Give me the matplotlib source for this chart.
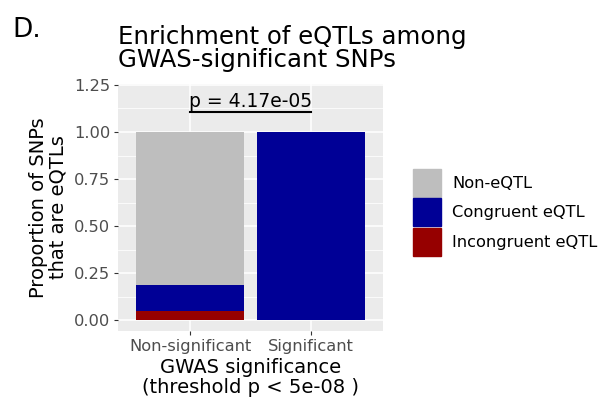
import matplotlib
matplotlib.use("Agg")
import matplotlib.pyplot as plt
from matplotlib.patches import Patch
from matplotlib.ticker import MultipleLocator

# proportions of SNPs per GWAS significance group
categories = ["Non-significant", "Significant"]
incongruent = [0.05, 0.0]
congruent = [0.136, 1.0]
non_eqtl = [0.814, 0.0]
p_label = "p = 4.17e-05"
p_height = 1.105

col_non = "#bebebe"
col_con = "#000096"
col_inc = "#960000"

fig = plt.figure(figsize=(6.02, 4.0), dpi=100)
ax = fig.add_axes([118/602, 1 - 331/400, (383 - 118)/602, (331 - 84)/400])

ax.set_facecolor("#ebebeb")
for s in ax.spines.values():
    s.set_visible(False)

x = [1, 2]
bottom2 = [a + b for a, b in zip(incongruent, congruent)]
ax.bar(x, incongruent, width=0.9, color=col_inc, zorder=3)
ax.bar(x, congruent, width=0.9, bottom=incongruent, color=col_con, zorder=3)
ax.bar(x, non_eqtl, width=0.9, bottom=bottom2, color=col_non, zorder=3)

ax.set_xlim(0.4, 2.6)
ax.set_ylim(-0.0575, 1.255)
ax.set_xticks(x)
ax.set_xticklabels(categories)
ax.set_yticks([0, 0.25, 0.5, 0.75, 1.0, 1.25])
ax.set_yticklabels(["0.00", "0.25", "0.50", "0.75", "1.00", "1.25"])
ax.yaxis.set_minor_locator(MultipleLocator(0.125))
ax.grid(True, which="major", color="white", linewidth=1.1, zorder=0)
ax.grid(True, which="minor", axis="y", color="white", linewidth=0.55, zorder=0)
ax.tick_params(axis="both", which="major", length=3, width=0.8, color="#333333",
               labelsize=11.7, labelcolor="#4d4d4d", pad=2.5)
ax.tick_params(axis="y", which="minor", length=0)

ax.set_ylabel("Proportion of SNPs\nthat are eQTLs", fontsize=14, linespacing=1.0, labelpad=5)
ax.set_xlabel("GWAS significance\n(threshold p < 5e-08 )", fontsize=14, linespacing=1.05, labelpad=3)

# significance bracket
ax.plot([1, 2], [p_height, p_height], color="black", linewidth=1.5, zorder=4)
ax.text(1.5, p_height + 0.004, p_label, ha="center", va="bottom", fontsize=13.5, zorder=4)

fig.text(118/602, 1 - 25/400, "Enrichment of eQTLs among\nGWAS-significant SNPs",
         ha="left", va="top", fontsize=17.6, linespacing=0.97)
fig.text(12/602, 1 - 17/400, "D.", ha="left", va="top", fontsize=19)

handles = [Patch(color=col_non, label="Non-eQTL"),
           Patch(color=col_con, label="Congruent eQTL"),
           Patch(color=col_inc, label="Incongruent eQTL")]
fig.legend(handles=handles, loc="upper left", bbox_to_anchor=(413/602, 1 - 169/400),
           frameon=False, fontsize=11.7, handlelength=1.72, handleheight=2.23,
           labelspacing=0.12, handletextpad=0.68, borderpad=0, borderaxespad=0)

fig.savefig("out.png", dpi=100)
